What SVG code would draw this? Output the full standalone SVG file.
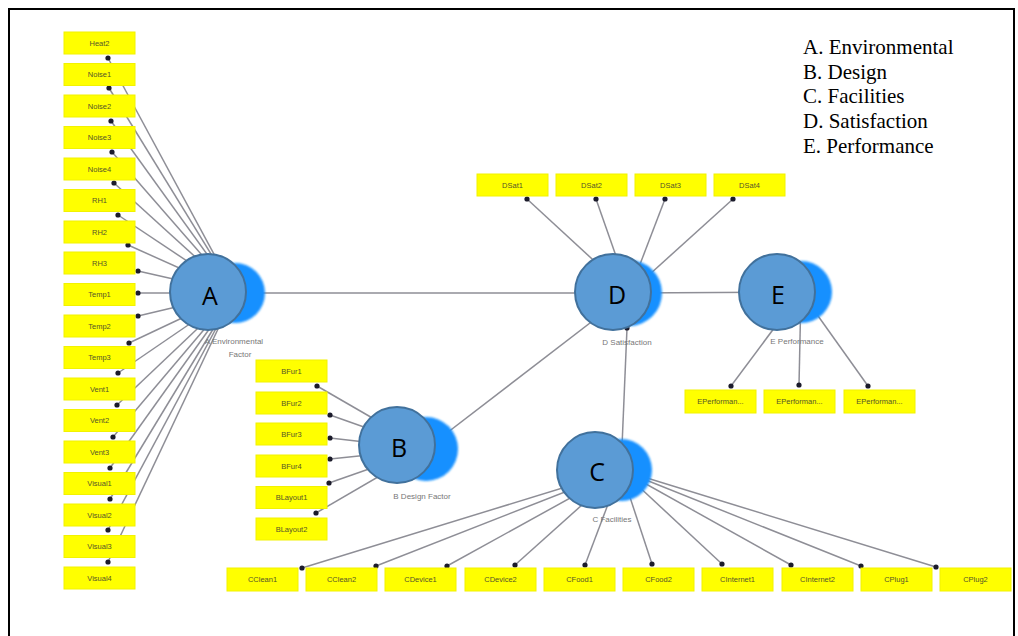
<svg xmlns="http://www.w3.org/2000/svg" width="1018" height="636" viewBox="0 0 1018 636">
<defs>
<style>
.ln{stroke:#8e8e96;stroke-width:1.5;fill:none;marker-end:url(#dot)}
.lp{stroke:#8e8e96;stroke-width:1.5;fill:none}
.bx{fill:#ffff00;stroke:#f2f200;stroke-width:1}
.bt{font-family:"Liberation Sans",Arial,sans-serif;font-size:7.5px;fill:#55552a;text-anchor:middle}
.sh{fill:#1490ff;filter:url(#soft)}
.lv{fill:#5b9bd5;stroke:#41719c;stroke-width:2}
.lt{font-family:"Open Sans","Liberation Sans",sans-serif;font-size:25px;fill:#000;text-anchor:middle}
.lb{font-family:"Liberation Sans",Arial,sans-serif;font-size:8px;fill:#777;text-anchor:middle}
.lg{font-family:"Liberation Serif","Times New Roman",serif;font-size:21px;fill:#000}
</style>
<marker id="dot" viewBox="0 0 6 6" refX="3" refY="3" markerWidth="6" markerHeight="6" markerUnits="userSpaceOnUse"><circle cx="3" cy="3" r="2.6" fill="#1b1b2b"/></marker>
<filter id="soft" x="-20%" y="-20%" width="140%" height="140%"><feGaussianBlur stdDeviation="1.2"/></filter>
</defs>
<rect x="0" y="0" width="1018" height="636" fill="#fff"/>
<rect x="9" y="9" width="1005" height="640" fill="none" stroke="#000" stroke-width="2"/>

<g id="connectors">
<line class="ln" x1="235" y1="293" x2="108" y2="58"/>
<line class="ln" x1="235" y1="293" x2="109" y2="88"/>
<line class="ln" x1="235" y1="293" x2="111" y2="121"/>
<line class="ln" x1="235" y1="293" x2="112" y2="152"/>
<line class="ln" x1="235" y1="293" x2="114" y2="183"/>
<line class="ln" x1="235" y1="293" x2="118" y2="215"/>
<line class="ln" x1="235" y1="293" x2="128" y2="245"/>
<line class="ln" x1="235" y1="293" x2="138" y2="271"/>
<line class="ln" x1="235" y1="293" x2="138" y2="293"/>
<line class="ln" x1="235" y1="293" x2="138" y2="316"/>
<line class="ln" x1="235" y1="293" x2="129" y2="343"/>
<line class="ln" x1="235" y1="293" x2="118" y2="373"/>
<line class="ln" x1="235" y1="293" x2="117" y2="405"/>
<line class="ln" x1="235" y1="293" x2="113" y2="437"/>
<line class="ln" x1="235" y1="293" x2="110" y2="468"/>
<line class="ln" x1="235" y1="293" x2="110" y2="499"/>
<line class="ln" x1="235" y1="293" x2="108" y2="530"/>
<line class="ln" x1="235" y1="293" x2="108" y2="562"/>

<line class="ln" x1="426" y1="449" x2="317" y2="386"/>
<line class="ln" x1="426" y1="449" x2="330" y2="415"/>
<line class="ln" x1="426" y1="449" x2="330" y2="438"/>
<line class="ln" x1="426" y1="449" x2="330" y2="459"/>
<line class="ln" x1="426" y1="449" x2="329" y2="483"/>
<line class="ln" x1="426" y1="449" x2="316" y2="513"/>

<line class="ln" x1="629" y1="293" x2="527" y2="199"/>
<line class="ln" x1="629" y1="293" x2="596" y2="199"/>
<line class="ln" x1="629" y1="293" x2="665" y2="199"/>
<line class="ln" x1="629" y1="293" x2="733" y2="199"/>

<line class="ln" x1="801" y1="292" x2="731" y2="386"/>
<line class="ln" x1="801" y1="292" x2="799" y2="385"/>
<line class="ln" x1="801" y1="292" x2="868" y2="386"/>

<line class="ln" x1="621" y1="470" x2="302" y2="568"/>
<line class="ln" x1="621" y1="470" x2="376" y2="566"/>
<line class="ln" x1="621" y1="470" x2="447" y2="566"/>
<line class="ln" x1="621" y1="470" x2="515" y2="565"/>
<line class="ln" x1="621" y1="470" x2="585" y2="565"/>
<line class="ln" x1="621" y1="470" x2="652" y2="564"/>
<line class="ln" x1="621" y1="470" x2="722" y2="564"/>
<line class="ln" x1="621" y1="470" x2="791" y2="565"/>
<line class="ln" x1="621" y1="470" x2="861" y2="566"/>
<line class="ln" x1="621" y1="470" x2="936" y2="567"/>

<line class="lp" x1="235" y1="293" x2="629" y2="293"/>
<line class="lp" x1="426" y1="449" x2="629" y2="293"/>
<line class="lp" x1="629" y1="293" x2="801" y2="292"/>
<line class="ln" x1="621" y1="470" x2="627" y2="328"/>
</g>

<g id="n-Heat2"><rect class="bx" x="64" y="32" width="71" height="22"/><text class="bt" x="99.5" y="45.5">Heat2</text></g>
<g id="n-Noise1"><rect class="bx" x="64" y="63.5" width="71" height="22"/><text class="bt" x="99.5" y="77">Noise1</text></g>
<g id="n-Noise2"><rect class="bx" x="64" y="95" width="71" height="22"/><text class="bt" x="99.5" y="108.5">Noise2</text></g>
<g id="n-Noise3"><rect class="bx" x="64" y="126.5" width="71" height="22"/><text class="bt" x="99.5" y="140">Noise3</text></g>
<g id="n-Noise4"><rect class="bx" x="64" y="158" width="71" height="22"/><text class="bt" x="99.5" y="171.5">Noise4</text></g>
<g id="n-RH1"><rect class="bx" x="64" y="189.5" width="71" height="22"/><text class="bt" x="99.5" y="203">RH1</text></g>
<g id="n-RH2"><rect class="bx" x="64" y="221" width="71" height="22"/><text class="bt" x="99.5" y="234.5">RH2</text></g>
<g id="n-RH3"><rect class="bx" x="64" y="252" width="71" height="22"/><text class="bt" x="99.5" y="265.5">RH3</text></g>
<g id="n-Temp1"><rect class="bx" x="64" y="283.5" width="71" height="22"/><text class="bt" x="99.5" y="297">Temp1</text></g>
<g id="n-Temp2"><rect class="bx" x="64" y="315" width="71" height="22"/><text class="bt" x="99.5" y="328.5">Temp2</text></g>
<g id="n-Temp3"><rect class="bx" x="64" y="346.5" width="71" height="22"/><text class="bt" x="99.5" y="360">Temp3</text></g>
<g id="n-Vent1"><rect class="bx" x="64" y="378" width="71" height="22"/><text class="bt" x="99.5" y="391.5">Vent1</text></g>
<g id="n-Vent2"><rect class="bx" x="64" y="409.5" width="71" height="22"/><text class="bt" x="99.5" y="423">Vent2</text></g>
<g id="n-Vent3"><rect class="bx" x="64" y="441" width="71" height="22"/><text class="bt" x="99.5" y="454.5">Vent3</text></g>
<g id="n-Visual1"><rect class="bx" x="64" y="472.5" width="71" height="22"/><text class="bt" x="99.5" y="486">Visual1</text></g>
<g id="n-Visual2"><rect class="bx" x="64" y="504" width="71" height="22"/><text class="bt" x="99.5" y="517.5">Visual2</text></g>
<g id="n-Visual3"><rect class="bx" x="64" y="535.5" width="71" height="22"/><text class="bt" x="99.5" y="549">Visual3</text></g>
<g id="n-Visual4"><rect class="bx" x="64" y="567" width="71" height="22"/><text class="bt" x="99.5" y="580.5">Visual4</text></g>

<g id="n-BFur1"><rect class="bx" x="256" y="360" width="71" height="22"/><text class="bt" x="291.5" y="373.5">BFur1</text></g>
<g id="n-BFur2"><rect class="bx" x="256" y="392" width="71" height="22"/><text class="bt" x="291.5" y="405.5">BFur2</text></g>
<g id="n-BFur3"><rect class="bx" x="256" y="423" width="71" height="22"/><text class="bt" x="291.5" y="436.5">BFur3</text></g>
<g id="n-BFur4"><rect class="bx" x="256" y="455" width="71" height="22"/><text class="bt" x="291.5" y="468.5">BFur4</text></g>
<g id="n-BLayout1"><rect class="bx" x="256" y="486.5" width="71" height="22"/><text class="bt" x="291.5" y="500">BLayout1</text></g>
<g id="n-BLayout2"><rect class="bx" x="256" y="518" width="71" height="22"/><text class="bt" x="291.5" y="531.5">BLayout2</text></g>

<g id="n-DSat1"><rect class="bx" x="477" y="174" width="71" height="22"/><text class="bt" x="512.5" y="187.5">DSat1</text></g>
<g id="n-DSat2"><rect class="bx" x="556" y="174" width="71" height="22"/><text class="bt" x="591.5" y="187.5">DSat2</text></g>
<g id="n-DSat3"><rect class="bx" x="635" y="174" width="71" height="22"/><text class="bt" x="670.5" y="187.5">DSat3</text></g>
<g id="n-DSat4"><rect class="bx" x="714" y="174" width="71" height="22"/><text class="bt" x="749.5" y="187.5">DSat4</text></g>

<g id="n-EPerf1"><rect class="bx" x="685" y="390" width="71" height="23"/><text class="bt" x="720.5" y="404">EPerforman...</text></g>
<g id="n-EPerf2"><rect class="bx" x="764" y="390" width="71" height="23"/><text class="bt" x="799.5" y="404">EPerforman...</text></g>
<g id="n-EPerf3"><rect class="bx" x="844" y="390" width="71" height="23"/><text class="bt" x="879.5" y="404">EPerforman...</text></g>

<g id="n-CClean1"><rect class="bx" x="227" y="568" width="71" height="23"/><text class="bt" x="262.5" y="582">CClean1</text></g>
<g id="n-CClean2"><rect class="bx" x="306" y="568" width="71" height="23"/><text class="bt" x="341.5" y="582">CClean2</text></g>
<g id="n-CDevice1"><rect class="bx" x="385" y="568" width="71" height="23"/><text class="bt" x="420.5" y="582">CDevice1</text></g>
<g id="n-CDevice2"><rect class="bx" x="465" y="568" width="71" height="23"/><text class="bt" x="500.5" y="582">CDevice2</text></g>
<g id="n-CFood1"><rect class="bx" x="544" y="568" width="71" height="23"/><text class="bt" x="579.5" y="582">CFood1</text></g>
<g id="n-CFood2"><rect class="bx" x="623" y="568" width="71" height="23"/><text class="bt" x="658.5" y="582">CFood2</text></g>
<g id="n-CInternet1"><rect class="bx" x="702" y="568" width="71" height="23"/><text class="bt" x="737.5" y="582">CInternet1</text></g>
<g id="n-CInternet2"><rect class="bx" x="782" y="568" width="71" height="23"/><text class="bt" x="817.5" y="582">CInternet2</text></g>
<g id="n-CPlug1"><rect class="bx" x="861" y="568" width="71" height="23"/><text class="bt" x="896.5" y="582">CPlug1</text></g>
<g id="n-CPlug2"><rect class="bx" x="940" y="568" width="71" height="23"/><text class="bt" x="975.5" y="582">CPlug2</text></g>

<g id="n-A"><circle class="sh" cx="235" cy="293" r="30"/><circle class="lv" cx="208" cy="292" r="38"/><text class="lt" x="210" y="305">A</text><text class="lb" x="234" y="344">A Environmental</text><text class="lb" x="240" y="357">Factor</text></g>
<g id="n-B"><circle class="sh" cx="426" cy="449" r="32"/><circle class="lv" cx="397" cy="445" r="38"/><text class="lt" x="399" y="457">B</text><text class="lb" x="422" y="499">B Design Factor</text></g>
<g id="n-C"><circle class="sh" cx="621" cy="470" r="31"/><circle class="lv" cx="595" cy="470" r="38"/><text class="lt" x="597" y="481">C</text><text class="lb" x="612" y="522">C Facilities</text></g>
<g id="n-D"><circle class="sh" cx="629" cy="293" r="33"/><circle class="lv" cx="613" cy="292" r="38"/><text class="lt" x="617" y="304">D</text><text class="lb" x="627" y="345">D Satisfaction</text></g>
<g id="n-E"><circle class="sh" cx="801" cy="292" r="31"/><circle class="lv" cx="777" cy="292" r="38"/><text class="lt" x="778" y="304">E</text><text class="lb" x="797" y="344">E Performance</text></g>

<g id="legend">
<text class="lg" x="803" y="54">A. Environmental</text>
<text class="lg" x="803" y="79">B. Design</text>
<text class="lg" x="803" y="103">C. Facilities</text>
<text class="lg" x="803" y="128">D. Satisfaction</text>
<text class="lg" x="803" y="153">E. Performance</text>
</g>
</svg>
